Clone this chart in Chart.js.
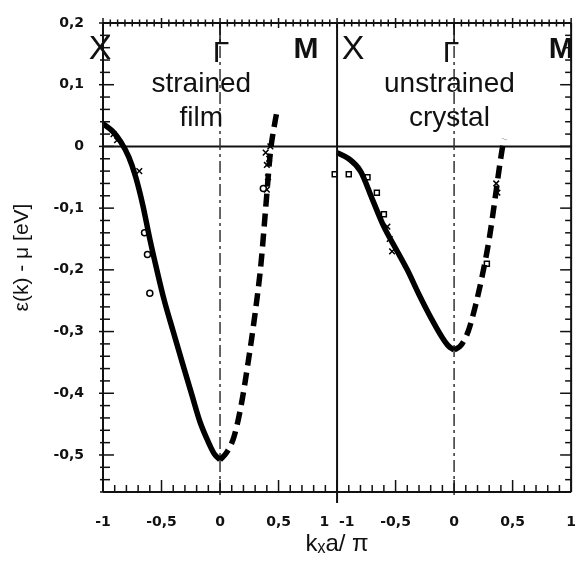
<!DOCTYPE html>
<html>
<head>
<meta charset="utf-8">
<script src="https://cdn.jsdelivr.net/npm/chart.js@4.4.1/dist/chart.umd.min.js"></script>
<style>
  html, body { margin: 0; padding: 0; background: #fff; overflow: hidden; }
  #wrap { width: 590px; height: 561px; }
</style>
</head>
<body>
<div id="wrap"><canvas id="bands" width="590" height="561"></canvas></div>
<script>
// k in units of pi/a, energies in eV relative to mu
// left panel: strained film
const filmK = [-1.0, -0.92, -0.85, -0.78, -0.72, -0.66, -0.6, -0.54, -0.48, -0.4, -0.32, -0.24, -0.17, -0.1, -0.05, 0]
const filmE = [0.037, 0.025, 0.008, -0.017, -0.05, -0.095, -0.15, -0.2, -0.247, -0.3, -0.352, -0.403, -0.447, -0.479, -0.498, -0.508]
const filmDashK = [0, 0.06, 0.12, 0.18, 0.24, 0.3, 0.35, 0.39, 0.43, 0.47, 0.49]
const filmDashE = [-0.508, -0.495, -0.47, -0.42, -0.35, -0.27, -0.19, -0.1, -0.01, 0.04, 0.06]
const filmCircleK = [-0.6, -0.62, -0.645, 0.37]
const filmCircleE = [-0.238, -0.175, -0.14, -0.068]
const filmCrossK = [-0.91, -0.88, -0.69, 0.39, 0.4, 0.41, 0.42, 0.4, 0.43]
const filmCrossE = [0.02, 0.01, -0.04, -0.01, -0.03, -0.05, -0.02, -0.07, 0.0]

// right panel: unstrained crystal
const crystalK = [-1, -0.9, -0.8, -0.7, -0.6, -0.5, -0.4, -0.3, -0.2, -0.1, -0.05, 0]
const crystalE = [-0.01, -0.02, -0.04, -0.085, -0.13, -0.165, -0.2, -0.24, -0.277, -0.31, -0.323, -0.33]
const crystalDashK = [0, 0.06, 0.12, 0.18, 0.24, 0.3, 0.35, 0.39, 0.42, 0.43]
const crystalDashE = [-0.33, -0.322, -0.3, -0.26, -0.21, -0.15, -0.085, -0.03, 0.005, 0.012]
const crystalSquareK = [-1.02, -0.9, -0.74, -0.66, -0.6, 0.28]
const crystalSquareE = [-0.045, -0.045, -0.05, -0.075, -0.11, -0.19]
const crystalCrossK = [-0.57, -0.55, -0.53, 0.36, 0.37]
const crystalCrossE = [-0.13, -0.15, -0.17, -0.06, -0.075]

const panelTicks = [-1, -0.5, 0, 0.5, 1]
const energyTicks = [0.2, 0.1, 0, -0.1, -0.2, -0.3, -0.4, -0.5]
const symPoints = ['X', 'Γ', 'M']
const panelTitles = [['strained', 'film'], ['unstrained', 'crystal']]

const SHIFT = 2 // right panel sits two units to the right on the shared x scale

const pts = (ks, es, dx = 0) => ks.map((k, i) => ({ x: k + dx, y: es[i] }))
const comma = v => (Math.abs(v) < 1e-9 ? '0' : String(+v.toFixed(1)).replace('.', ','))

const curve = (data, dash) => ({
  data,
  showLine: true,
  pointRadius: 0,
  borderColor: '#000',
  borderWidth: 5.5,
  borderDash: dash || [],
  cubicInterpolationMode: 'monotone',
  borderCapStyle: 'butt'
})
const marks = (data, style, r) => ({
  data,
  showLine: false,
  pointStyle: style,
  pointRadius: r,
  pointBorderColor: '#000',
  pointBackgroundColor: '#fff',
  pointBorderWidth: 1.5
})

const seg = (ctx, x1, y1, x2, y2) => {
  ctx.beginPath(); ctx.moveTo(x1, y1); ctx.lineTo(x2, y2); ctx.stroke()
}

const frame = {
  id: 'frame',
  beforeDatasetsDraw(chart) {
    const { ctx, chartArea: a, scales: { x, y } } = chart
    ctx.save()
    ctx.strokeStyle = '#111'
    ctx.lineWidth = 2
    const y0 = y.getPixelForValue(0)
    seg(ctx, a.left, y0, a.right, y0)
    ctx.strokeStyle = '#333'
    ctx.lineWidth = 1.5
    ctx.setLineDash([12, 4, 3, 4])
    for (const g of [0, SHIFT]) {
      const gx = x.getPixelForValue(g)
      seg(ctx, gx, a.top, gx, a.bottom + 6)
    }
    ctx.restore()
  },
  afterDraw(chart) {
    const { ctx, chartArea: a, scales: { x, y } } = chart
    ctx.save()
    ctx.strokeStyle = '#111'
    ctx.lineWidth = 2
    // frame and panel divider
    seg(ctx, a.left, a.top, a.left, a.bottom)
    seg(ctx, a.right, a.top, a.right, a.bottom)
    seg(ctx, a.left, a.top, a.right, a.top)
    seg(ctx, a.left, a.bottom, a.right, a.bottom)
    const dv = x.getPixelForValue(1)
    seg(ctx, dv, a.top, dv, a.bottom + 11)

    ctx.lineWidth = 1.5
    // energy ticks, left and right
    for (let i = -28; i <= 10; i++) {
      const py = y.getPixelForValue(i * 0.02)
      const big = i % 5 === 0
      seg(ctx, a.left - (big ? 4 : 3), py, a.left + (big ? 11 : 7), py)
      seg(ctx, a.right - (big ? 11 : 6), py, a.right, py)
    }
    // bottom ticks every 0.1
    for (let i = -10; i <= 30; i++) {
      const px = x.getPixelForValue(i / 10)
      seg(ctx, px, a.bottom, px, a.bottom - (i % 5 === 0 ? 12 : 7))
    }
    // top ticks every 1/16
    for (let i = -16; i <= 48; i++) {
      const px = x.getPixelForValue(i / 16)
      const h = i % 8 === 0 ? 5 : 3.5
      seg(ctx, px, a.top - h, px, a.top + h)
    }
    for (const g of [0, SHIFT]) {
      const gx = x.getPixelForValue(g)
      seg(ctx, gx, a.top, gx, a.top + 19)
    }

    // symmetry points
    ctx.fillStyle = '#111'
    ctx.textAlign = 'center'
    ctx.textBaseline = 'middle'
    ctx.font = '34px "Liberation Sans"'
    ctx.fillText(symPoints[0], x.getPixelForValue(-1) - 3, 50)
    ctx.fillText(symPoints[0], x.getPixelForValue(1) + 16, 50)
    ctx.font = '30px "Liberation Sans"'
    ctx.fillText(symPoints[1], x.getPixelForValue(0) + 1, 54)
    ctx.fillText(symPoints[1], x.getPixelForValue(SHIFT) - 3, 54)
    ctx.font = 'bold 30px "Liberation Sans"'
    ctx.fillText(symPoints[2], x.getPixelForValue(1) - 31, 50)
    ctx.fillText(symPoints[2], x.getPixelForValue(1 + SHIFT) - 10, 50)

    // panel titles
    ctx.font = '28px "Liberation Sans"'
    const centres = [-0.16, SHIFT - 0.04]
    panelTitles.forEach((lines, p) => {
      lines.forEach((t, j) => {
        ctx.fillText(t, x.getPixelForValue(centres[p]), y.getPixelForValue(j === 0 ? 0.1 : 0.046))
      })
    })
    ctx.restore()
  }
}

const xTickValues = [...panelTicks, ...panelTicks.slice(1).map(v => v + SHIFT)]

new Chart(document.getElementById('bands'), {
  type: 'scatter',
  data: {
    datasets: [
      curve(pts(filmK, filmE)),
      curve(pts(filmDashK, filmDashE), [13, 7]),
      curve(pts(crystalK, crystalE, SHIFT)),
      curve(pts(crystalDashK, crystalDashE, SHIFT), [13, 7]),
      marks(pts(filmCircleK, filmCircleE), 'circle', 3),
      marks(pts(filmCrossK, filmCrossE), 'crossRot', 4),
      marks(pts(crystalSquareK, crystalSquareE, SHIFT), 'rect', 3.5),
      marks(pts(crystalCrossK, crystalCrossE, SHIFT), 'crossRot', 4)
    ]
  },
  options: {
    responsive: false,
    animation: false,
    layout: { padding: { top: 23, right: 15, bottom: 0, left: 0 } },
    plugins: { legend: { display: false }, tooltip: { enabled: false } },
    scales: {
      x: {
        type: 'linear',
        min: -1,
        max: 1 + SHIFT,
        grid: { display: false },
        border: { display: false },
        afterBuildTicks: s => { s.ticks = xTickValues.map(v => ({ value: v })) },
        afterFit: s => { s.height = 69 },
        ticks: {
          autoSkip: false,
          maxRotation: 0,
          padding: 14,
          color: '#111',
          font: { family: 'DejaVu Sans', size: 14, weight: 'bold' },
          callback: v => (v === 1 ? '1  -1' : comma(v > 1 ? v - SHIFT : v))
        },
        title: {
          display: true,
          text: 'kₓa/ π',
          color: '#111',
          font: { family: 'Liberation Sans', size: 24 },
          padding: { top: 0, bottom: 2 }
        }
      },
      y: {
        min: -0.56,
        max: 0.2,
        grid: { display: false },
        border: { display: false },
        afterBuildTicks: s => { s.ticks = energyTicks.map(v => ({ value: v })) },
        afterFit: s => { s.width = 103 },
        ticks: {
          padding: 11,
          color: '#111',
          font: { family: 'DejaVu Sans', size: 14, weight: 'bold' },
          callback: v => comma(v)
        },
        title: {
          display: true,
          text: 'ε(k) - μ [eV]',
          color: '#111',
          font: { family: 'Liberation Sans', size: 21 },
          padding: { top: 10, bottom: 0 }
        }
      }
    }
  },
  plugins: [frame]
})
</script>
</body>
</html>
